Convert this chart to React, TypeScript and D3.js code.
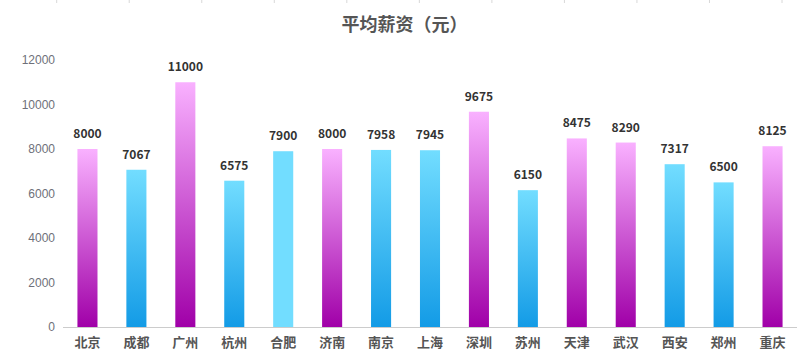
import React from "react";
import * as d3 from "d3";

const cities = ["北京", "成都", "广州", "杭州", "合肥", "济南", "南京", "上海", "深圳", "苏州", "天津", "武汉", "西安", "郑州", "重庆"];
const salaries = [8000, 7067, 11000, 6575, 7900, 8000, 7958, 7945, 9675, 6150, 8475, 8290, 7317, 6500, 8125];
const barStyles = ["pink", "blue", "pink", "blue", "solid", "pink", "blue", "blue", "pink", "blue", "pink", "pink", "blue", "blue", "pink"];
const yTicks = [0, 2000, 4000, 6000, 8000, 10000, 12000];
const topMarks = [0, 1, 2, 3, 4, 5, 6, 7, 8, 9, 10];

const W = 809;
const H = 362;
const left = 63;
const right = 797;
const top = 60;
const bottom = 327;

export default function App() {
  const x = d3.scaleBand<string>().domain(cities).range([left, right]).paddingInner(0.59).paddingOuter(0.295);
  const y = d3.scaleLinear().domain([0, 12000]).range([bottom, top]);
  const topX = d3.scaleLinear().domain([0, 10]).range([56.7, 782]);
  const fill = (s: string) => (s === "pink" ? "url(#gPink)" : s === "blue" ? "url(#gBlue)" : "#72DDFF");
  const cjk = "'Microsoft YaHei', 'Noto Sans CJK SC', sans-serif";
  return (
    <svg width={W} height={H} style={{ position: "absolute", left: 0, top: 0, display: "block" }}>
      <defs>
        <linearGradient id="gPink" x1="0" y1="0" x2="0" y2="1">
          <stop offset="0%" stopColor="#F9B1FF" />
          <stop offset="100%" stopColor="#A000A8" />
        </linearGradient>
        <linearGradient id="gBlue" x1="0" y1="0" x2="0" y2="1">
          <stop offset="0%" stopColor="#72DDFF" />
          <stop offset="100%" stopColor="#139BE6" />
        </linearGradient>
      </defs>
      <rect x={0} y={0} width={W} height={H} fill="#fff" />
      {topMarks.map((m) => (
        <line key={m} x1={topX(m)} x2={topX(m)} y1={0} y2={3} stroke="#d8d8d8" strokeWidth={1} />
      ))}
      <text x={W / 2} y={31} textAnchor="middle" fontFamily={cjk} fontWeight="bold" fontSize={18} fill="#555">
        平均薪资（元）
      </text>
      {yTicks.map((t) => (
        <text key={t} x={55} y={y(t)} dy="0.35em" textAnchor="end" fontFamily="'Liberation Sans', Arial, sans-serif" fontSize={12} fill="#6E7079">
          {t}
        </text>
      ))}
      {cities.map((c, i) => {
        const bx = x(c) as number;
        const bw = x.bandwidth();
        const v = salaries[i];
        return (
          <g key={c}>
            <rect x={bx} y={y(v)} width={bw} height={y(0) - y(v)} fill={fill(barStyles[i])} />
            <text x={bx + bw / 2} y={y(v) - 11} textAnchor="middle" fontFamily={cjk} fontWeight="bold" fontSize={12} fill="#333">
              {v}
            </text>
            <text x={bx + bw / 2} y={347} textAnchor="middle" fontFamily={cjk} fontWeight="bold" fontSize={13} fill="#555">
              {c}
            </text>
          </g>
        );
      })}
      <line x1={left} x2={right} y1={bottom + 0.5} y2={bottom + 0.5} stroke="#ccc" strokeWidth={1} />
    </svg>
  );
}
